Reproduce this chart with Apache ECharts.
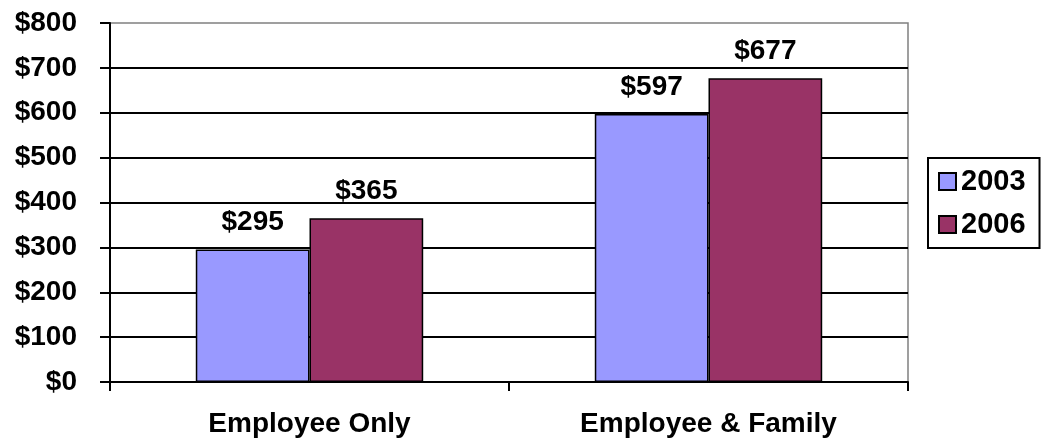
<!DOCTYPE html>
<html>
<head>
<meta charset="utf-8">
<script src="https://cdn.jsdelivr.net/npm/echarts@6/dist/echarts.min.js"></script>
<style>
  html, body { margin: 0; padding: 0; background: #fff; }
  #chart { width: 1042px; height: 441px; }
</style>
</head>
<body>
<div id="chart"></div>
<script>
// Monthly premium contributions by coverage type
const categories = ['Employee Only', 'Employee & Family'];
const values2003 = [295, 597];
const values2006 = [365, 677];
const seriesNames = ['2003', '2006'];

const FONT = "'Liberation Sans', Arial, sans-serif";

const chart = echarts.init(document.getElementById('chart'), null, { renderer: 'canvas' });

function money(v) { return '$' + v; }

const labelStyle = {
  show: true,
  position: 'top',
  distance: 13,
  fontFamily: FONT,
  fontWeight: 'bold',
  fontSize: 28,
  color: '#000',
  formatter: p => money(p.value)
};

chart.setOption({
  animation: false,
  backgroundColor: '#fff',
  grid: {
    left: 110, right: 134, top: 23, bottom: 59,
    show: true, borderColor: '#808080', borderWidth: 1.5,
    containLabel: false
  },
  legend: {
    orient: 'vertical',
    left: 928, top: 158,
    padding: [9, 14, 9, 10],
    borderColor: '#000', borderWidth: 2,
    itemWidth: 17, itemHeight: 17, itemGap: 14,
    icon: 'rect',
    textStyle: { fontFamily: FONT, fontWeight: 'bold', fontSize: 29, color: '#000' },
    data: seriesNames
  },
  xAxis: {
    type: 'category',
    data: categories,
    axisLine: { lineStyle: { color: '#000', width: 2 } },
    axisTick: { show: true, length: 9, alignWithLabel: false, lineStyle: { color: '#000', width: 2 } },
    axisLabel: { margin: 28, fontFamily: FONT, fontWeight: 'bold', fontSize: 28, color: '#000' },
    splitLine: { show: false }
  },
  yAxis: {
    type: 'value',
    min: 0, max: 800, interval: 100,
    axisLine: { show: true, lineStyle: { color: '#000', width: 2 } },
    axisTick: { show: true, length: 10, lineStyle: { color: '#000', width: 2 } },
    axisLabel: { margin: 33, fontFamily: FONT, fontWeight: 'bold', fontSize: 28, color: '#000', formatter: money },
    splitLine: { show: true, showMaxLine: false, lineStyle: { color: '#000', width: 2 } }
  },
  series: [
    {
      name: seriesNames[0], type: 'bar', data: values2003,
      barGap: '0%', barCategoryGap: '43%',
      itemStyle: { color: '#9999FF', borderColor: '#000', borderWidth: 1.5 },
      label: labelStyle
    },
    {
      name: seriesNames[1], type: 'bar', data: values2006,
      barGap: '0%', barCategoryGap: '43%',
      itemStyle: { color: '#993366', borderColor: '#000', borderWidth: 1.5 },
      label: labelStyle
    }
  ]
});
</script>
</body>
</html>
